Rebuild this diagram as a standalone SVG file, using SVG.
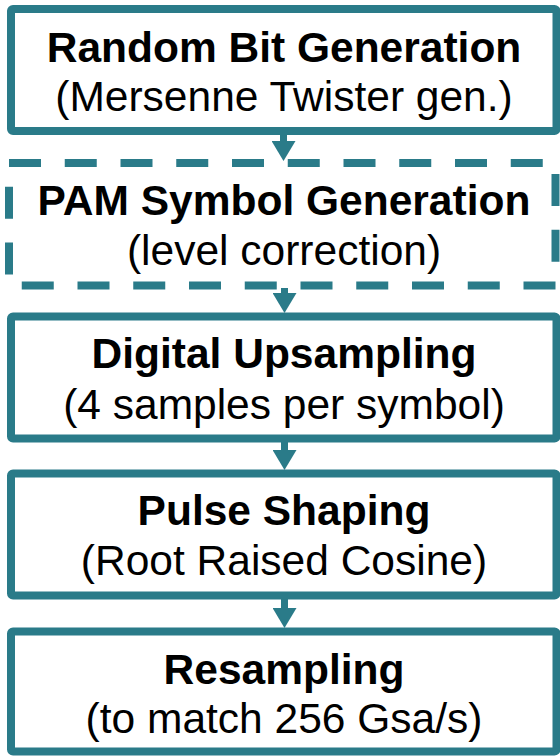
<svg xmlns="http://www.w3.org/2000/svg" width="560" height="756" viewBox="0 0 560 756">
  <style>
    .box { fill: #ffffff; stroke: #2a7b89; stroke-width: 8; }
    .dashed { stroke-dasharray: 32 23.75; }
    .title { font-family: "Liberation Sans", Arial, sans-serif; font-weight: bold; font-size: 42.5px; fill: #000; text-anchor: middle; }
    .sub { font-family: "Liberation Sans", Arial, sans-serif; font-size: 42.5px; fill: #000; text-anchor: middle; }
    .shaft { stroke: #2a7b89; stroke-width: 7; fill: none; }
  </style>
  <defs>
    <marker id="ah" markerUnits="userSpaceOnUse" viewBox="0 0 20 24" refX="0" refY="12" markerWidth="20" markerHeight="24" orient="auto">
      <path d="M0,0 L20,12 L0,24 Z" fill="#2a7b89"/>
    </marker>
  </defs>
  <rect width="560" height="756" fill="#ffffff"/>

  <g id="node-random-bit">
    <rect class="box" x="11" y="9" width="545.5" height="122" rx="2"/>
    <text class="title" x="284" y="61.5">Random Bit Generation</text>
    <text class="sub" x="284" y="111">(Mersenne Twister gen.)</text>
  </g>

  <g id="node-pam-symbol">
    <rect class="box dashed" x="9" y="163" width="546.5" height="122.5"/>
    <text class="title" x="284" y="214.5">PAM Symbol Generation</text>
    <text class="sub" x="284" y="265">(level correction)</text>
  </g>

  <g id="node-upsampling">
    <rect class="box" x="11" y="316.5" width="545.5" height="122" rx="2"/>
    <text class="title" x="284" y="368">Digital Upsampling</text>
    <text class="sub" x="284" y="418.5">(4 samples per symbol)</text>
  </g>

  <g id="node-pulse-shaping">
    <rect class="box" x="11" y="473.5" width="545.5" height="122" rx="2"/>
    <text class="title" x="284" y="524.5">Pulse Shaping</text>
    <text class="sub" x="284" y="575">(Root Raised Cosine)</text>
  </g>

  <g id="node-resampling">
    <rect class="box" x="11" y="631.5" width="545.5" height="120" rx="2"/>
    <text class="title" x="284" y="683.5">Resampling</text>
    <text class="sub" x="284" y="733">(to match 256 Gsa/s)</text>
  </g>

  <g id="connectors">
    <line class="shaft" x1="283.5" y1="134" x2="283.5" y2="141" marker-end="url(#ah)"/>
    <line class="shaft" x1="284.5" y1="288" x2="284.5" y2="293" marker-end="url(#ah)"/>
    <line class="shaft" x1="284.5" y1="441" x2="284.5" y2="450" marker-end="url(#ah)"/>
    <line class="shaft" x1="284.5" y1="598" x2="284.5" y2="608" marker-end="url(#ah)"/>
  </g>
</svg>
